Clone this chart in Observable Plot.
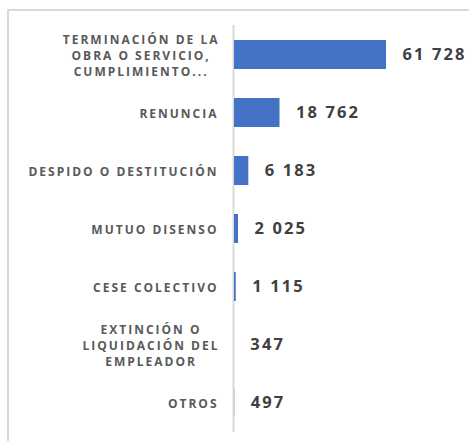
<!DOCTYPE html>
<html>
<head>
<meta charset="utf-8">
<script src="https://cdn.jsdelivr.net/npm/d3@7"></script>
<script src="https://cdn.jsdelivr.net/npm/@observablehq/plot@0.6"></script>
<style>
  html, body { margin: 0; padding: 0; background: #fff; }
  #wrap { position: relative; width: 469px; height: 441px; overflow: hidden; }
  #frame { position: absolute; left: 7px; top: 9px; width: 500px; height: 500px;
           border-top: 2px solid #d9d9d9; border-left: 2px solid #d9d9d9; box-sizing: border-box; }
  #chart { position: absolute; left: 0; top: 0; }
</style>
</head>
<body>
<div id="wrap"><div id="frame"></div><div id="chart"></div></div>
<script>
const categories = [
  "TERMINACIÓN DE LA\nOBRA O SERVICIO,\nCUMPLIMIENTO...",
  "RENUNCIA",
  "DESPIDO O DESTITUCIÓN",
  "MUTUO DISENSO",
  "CESE COLECTIVO",
  "EXTINCIÓN O\nLIQUIDACIÓN DEL\nEMPLEADOR",
  "OTROS"
];
const values = [61728, 18762, 6183, 2025, 1115, 347, 497];

const data = categories.map((c, i) => ({category: c, value: values[i]}));
const fmt = d3.formatLocale({decimal: ",", thousands: " ", grouping: [3]}).format(",d");

const chart = Plot.plot({
  width: 469,
  height: 441,
  marginLeft: 233,
  marginRight: 83,
  marginTop: 25,
  marginBottom: 9,
  style: {fontFamily: "'Open Sans', sans-serif", background: "transparent"},
  x: {domain: [0, 61728], axis: null},
  y: {domain: categories, paddingInner: 0.5, paddingOuter: 0.235, label: null},
  marks: [
    Plot.ruleX([0], {stroke: "#d9d9d9", strokeWidth: 2}),
    Plot.barX(data, {x: "value", y: "category", fill: "#4472C4", insetLeft: 1}),
    Plot.axisY({
      tickSize: 0, tickPadding: 15, label: null,
      fontSize: 12, fontWeight: "bold", fill: "#595959", lineHeight: 1.35,
      textAnchor: "end"
    }),
    Plot.text(data, {
      x: "value", y: "category", text: d => fmt(d.value),
      textAnchor: "start", dx: 16, fontSize: 16.5, fontWeight: "bold", fill: "#404040"
    })
  ]
});
d3.select(chart).selectAll("g[aria-label='y-axis tick label'] text").style("letter-spacing", "2px");
d3.select(chart).selectAll("g[aria-label='text'] text").style("letter-spacing", "2.1px");
document.getElementById("chart").appendChild(chart);

// Excel centres the lines of a wrapped label within the label block (block right-aligned)
d3.select(chart).selectAll("g[aria-label='y-axis tick label'] text").each(function() {
  const spans = this.querySelectorAll("tspan");
  if (spans.length < 2) return;
  const w = d3.max(Array.from(spans), s => s.getComputedTextLength());
  this.setAttribute("text-anchor", "middle");
  const t = this.getAttribute("transform") || "";
  this.setAttribute("transform", t + ` translate(${-w / 2 + 1},0)`);
});
</script>
</body>
</html>
